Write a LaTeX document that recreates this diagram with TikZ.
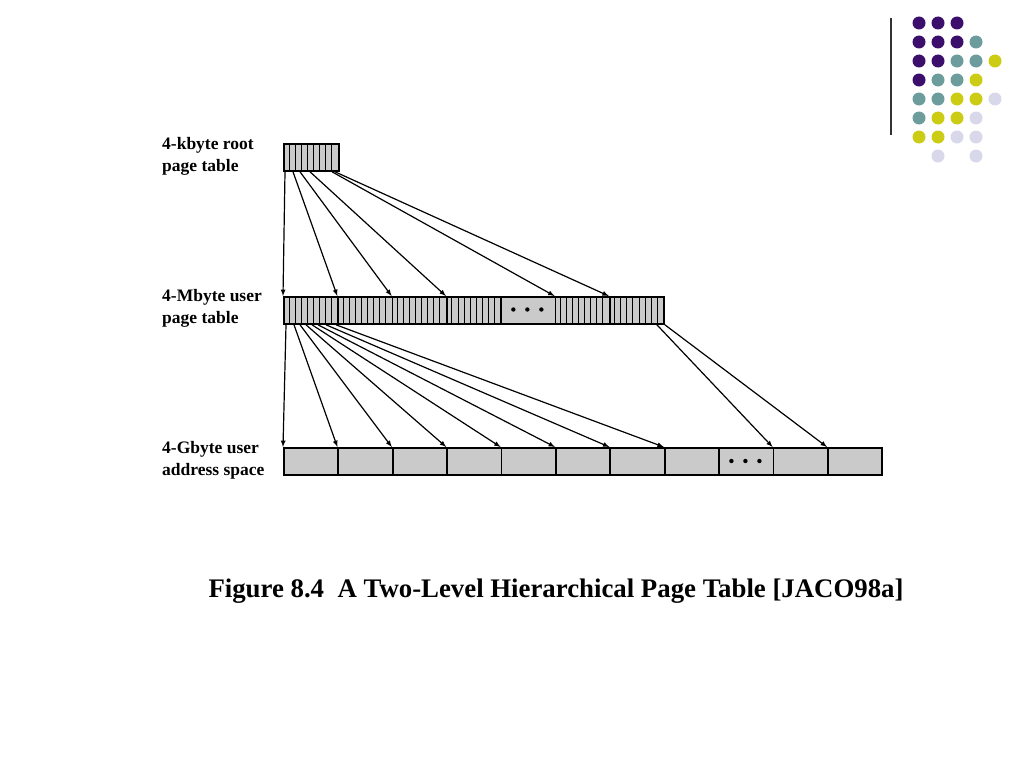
\documentclass[tikz,border=0pt]{standalone}
\usepackage{fontspec}
\setmainfont{Liberation Serif}
\definecolor{pp}{HTML}{3B0F6B}
\definecolor{tt}{HTML}{6C9C9C}
\definecolor{yy}{HTML}{CCCC14}
\definecolor{ll}{HTML}{D8D8EA}
\definecolor{cellgray}{HTML}{CACACA}
\begin{document}
\begin{tikzpicture}[x=1pt,y=-1pt,
  lbl/.style={anchor=north west,font=\fontsize{17.5}{22}\selectfont\bfseries,align=left,inner sep=0pt},
  arr/.style={-latex,line width=1.2pt},
  box/.style={draw,line width=1.8pt,fill=cellgray,minimum height=27pt,inner sep=0pt,anchor=north west}]
\useasboundingbox (0,0) rectangle (1024,768);
% decoration
\draw[line width=1.2pt,gray!40!black] (891,18) -- (891,135);
\foreach \r/\row in {0/{pp,pp,pp,,},1/{pp,pp,pp,tt,},2/{pp,pp,tt,tt,yy},3/{pp,tt,tt,yy,},4/{tt,tt,yy,yy,ll},5/{tt,yy,yy,ll,},6/{yy,yy,ll,ll,},7/{,ll,,ll,}}{
  \foreach \c [count=\i from 0] in \row {
    \ifx\c\empty\else\fill[\c] ({919+19*\i},{23+19*\r}) circle (6.5);\fi
  }}
% labels
\node[lbl] (l1) at (162,137) {4-kbyte root\\page table};
\node[lbl] (l2) at (162,289) {4-Mbyte user\\page table};
\node[lbl] (l3) at (162,441) {4-Gbyte user\\address space};
% root table
\node[box,minimum width=55pt] (root) at (283,143) {};
\foreach \k in {1,...,8} \draw[line width=0.9pt] (283+6.1*\k,143) -- (283+6.1*\k,171);
% mid table
\foreach \i in {0,...,6}{
  \node[box,minimum width=54.3pt] (m\i) at ({283+54.3*\i},296) {};
  \ifnum\i=4
    \foreach \d in {-14,0,14} \fill ({283+54.3*\i+27.15+\d},309.5) circle (2.2);
  \else
    \foreach \k in {1,...,8} \draw[line width=0.9pt] ({283+54.3*\i+6.03*\k},296) -- ({283+54.3*\i+6.03*\k},323);
  \fi}
% bottom table
\foreach \i in {0,...,10}{
  \node[box,minimum width=54.4pt] (b\i) at ({283+54.4*\i},447) {};
  \ifnum\i=8 \foreach \d in {-14,0,14} \fill ({283+54.4*\i+27.2+\d},461) circle (2.2);\fi}
% root arrows
\foreach \s/\t in {285/0,293/1,300/2,310/3,332/5,335/6}
  \draw[arr] ([xshift={\s-283}]root.south west) -- (m\t.north west);
% mid arrows
\foreach \s/\t in {286/0,294/1,300/2,306/3,312/4,318/5,326/6,336/7}
  \draw[arr] ([xshift={\s-283}]m0.south west) -- (b\t.north west);
\draw[arr] ([xshift=-8]m6.south east) -- (b9.north west);
\draw[arr] (m6.south east) -- (b10.north west);
% caption
\node[anchor=base,font=\fontsize{26.8}{30}\selectfont\bfseries] (cap) at (556,597) {Figure 8.4\ \ A Two-Level Hierarchical Page Table [JACO98a]};
\end{tikzpicture}
\end{document}
